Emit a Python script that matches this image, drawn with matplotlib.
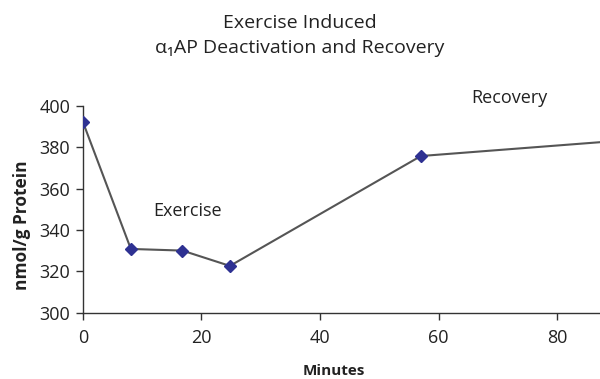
import matplotlib.pyplot as plt

# time course (minutes) and alpha1-AP level (nmol/g protein)
minutes = [0, 8.1, 16.8, 24.8, 57, 90]
level = [392.3, 330.8, 330.0, 322.6, 375.7, 383.0]

x_ticks = [0, 20, 40, 60, 80]
y_ticks = [300, 320, 340, 360, 380, 400]

LINE = '#555555'
MARK = '#2E3192'
TEXT = '#222222'

plt.rcParams['font.family'] = ['Open Sans', 'DejaVu Sans']

fig = plt.figure(figsize=(6.0, 3.79), dpi=100)
ax = fig.add_axes([0.138, 0.175, 0.862, 0.546])

ax.plot(minutes, level, color=LINE, lw=1.5, zorder=2)
ax.plot(minutes, level, ls='none', marker='D', ms=6, color=MARK, zorder=3)

ax.set_xlim(0, 87.2)
ax.set_ylim(300, 400)
ax.set_xticks(x_ticks)
ax.set_yticks(y_ticks)
ax.tick_params(axis='both', direction='out', length=5, width=1, color='#333333',
               labelsize=13, labelcolor=TEXT)
ax.tick_params(axis='x', pad=7)
ax.tick_params(axis='y', pad=4)

for side in ['top', 'right']:
    ax.spines[side].set_visible(False)
for side in ['left', 'bottom']:
    ax.spines[side].set_color('#333333')
    ax.spines[side].set_linewidth(1)

ax.set_xlabel('Minutes', fontsize=11, fontweight='bold', color=TEXT, va='center')
ax.set_ylabel('nmol/g Protein', fontsize=12.5, fontweight='bold', color=TEXT, va='center')
ax.xaxis.set_label_coords(0.486, -0.282)
ax.yaxis.set_label_coords(-0.117, 0.424)

ax.text(17.6, 349, 'Exercise', fontsize=13, color=TEXT, ha='center', va='center')
ax.text(72.0, 403.5, 'Recovery', fontsize=13, color=TEXT, ha='center', va='center',
        clip_on=False)

fig.text(0.5, 0.94, 'Exercise Induced', fontsize=14, color=TEXT, ha='center', va='center')
fig.text(0.5, 0.873, 'α₁AP Deactivation and Recovery', fontsize=14, color=TEXT,
         ha='center', va='center')

fig.savefig('out.png', dpi=100)
